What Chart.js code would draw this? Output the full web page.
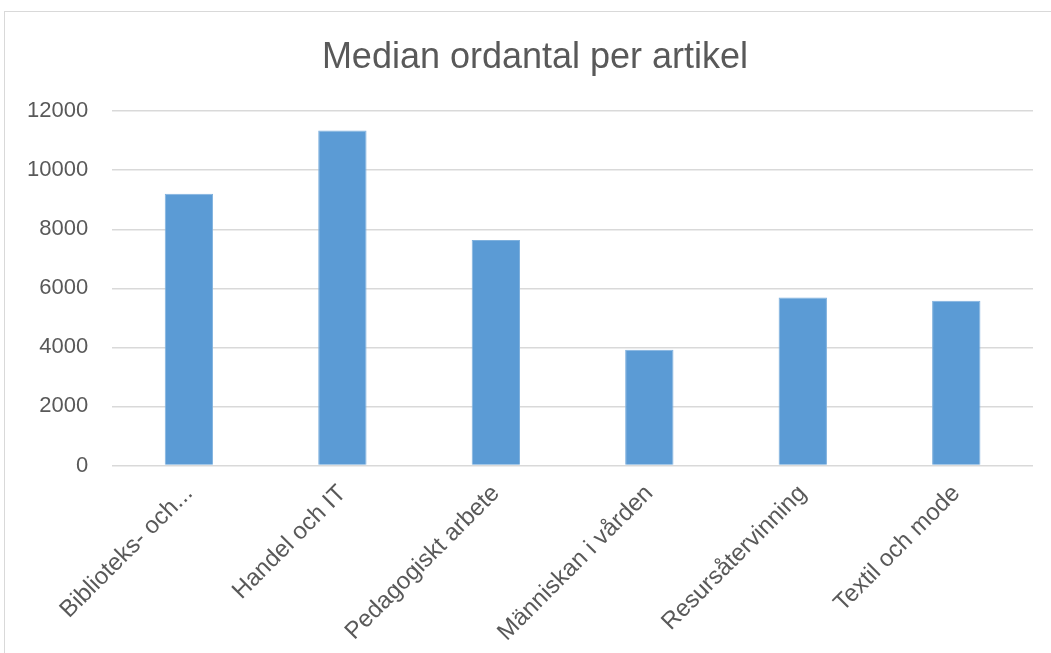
<!DOCTYPE html>
<html>
<head>
<meta charset="utf-8">
<script src="https://cdn.jsdelivr.net/npm/chart.js@4"></script>
<style>
    html, body { margin: 0; padding: 0; background: #fff; }
    #frame {
        position: absolute; left: 4px; top: 11px;
        width: 1060px; height: 660px;
        border: 1px solid #d9d9d9;
    }
    #wrap { position: absolute; left: 0; top: 0; width: 1051px; height: 653px; }
</style>
</head>
<body>
<div id="frame"></div>
<div id="wrap"><canvas id="chart"></canvas></div>
<script>
"use strict";
const categories = ["Biblioteks- och...", "Handel och IT", "Pedagogiskt arbete", "Människan i vården", "Resursåtervinning", "Textil och mode"];
const values = [9200, 11350, 7640, 3920, 5690, 5580];
const yTicks = [0, 2000, 4000, 6000, 8000, 10000, 12000];

// skjut titeln lite åt höger så den hamnar mitt över ramen
const titleShift = {
    id: 'titleShift',
    afterLayout(chart) {
        const t = chart.titleBlock;
        if (t) { t.left += 17; t.right += 17; }
    }
};

const ctx = document.getElementById('chart').getContext('2d');
const chartConfig = {
    type: 'bar',
    data: {
        labels: categories,
        datasets: [{
            label: 'Median ordantal',
            data: values,
            backgroundColor: "#5b9bd5",
            borderColor: "#7fb1de",
            borderWidth: 1,
            categoryPercentage: 1,
            barPercentage: 0.315
        }]
    },
    options: {
        responsive: true,
        maintainAspectRatio: false,
        animation: false,
        layout: {
            padding: { left: 3, right: 18, top: 20, bottom: 0 }
        },
        scales: {
            x: {
                grid: { display: false },
                border: { display: false },
                afterFit: scale => { scale.paddingLeft = 0; scale.paddingRight = 0; },
                ticks: {
                    autoSkip: false,
                    minRotation: 45,
                    maxRotation: 45,
                    color: "#595959",
                    padding: 6,
                    font: { family: "Liberation Sans", size: 24 }
                }
            },
            y: {
                min: 0,
                max: 12000,
                afterBuildTicks: axis => { axis.ticks = yTicks.map(v => ({ value: v })); },
                grid: { color: "#d9d9d9", lineWidth: 1.5, drawTicks: false },
                border: { display: false },
                ticks: {
                    color: "#595959",
                    padding: 24,
                    font: { family: "Liberation Sans", size: 22 },
                    callback: v => String(v)
                }
            }
        },
        plugins: {
            legend: { display: false },
            tooltip: { enabled: false },
            title: {
                display: true,
                text: 'Median ordantal per artikel',
                color: "#595959",
                font: { family: "Liberation Sans", size: 36, weight: 'normal' },
                padding: { top: 16, bottom: 32 }
            }
        }
    },
    plugins: [titleShift]
};

new Chart(ctx, chartConfig);
</script>
</body>
</html>
